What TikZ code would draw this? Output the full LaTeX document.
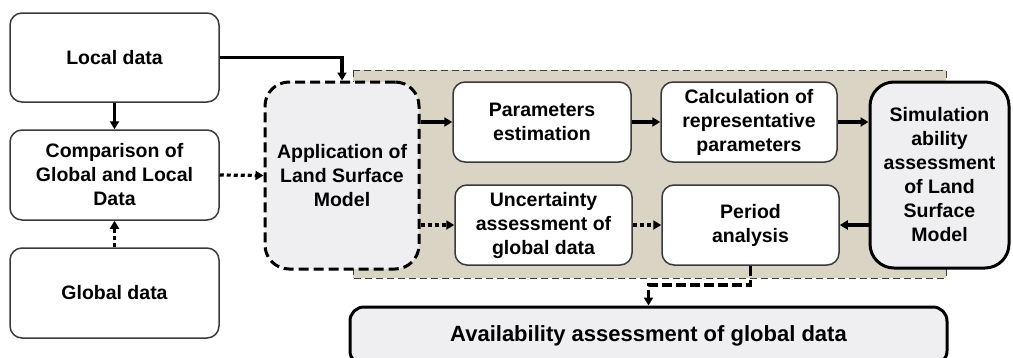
\documentclass[tikz,border=0pt]{standalone}
\usepackage{fontspec}
\setmainfont{Liberation Sans}
\usetikzlibrary{arrows.meta, positioning}
\definecolor{panel}{HTML}{D9D4C3}
\definecolor{shade}{HTML}{EFEFF1}
\definecolor{edge}{HTML}{3A3A3A}

\begin{document}
\begin{tikzpicture}[x=1pt, y=-1pt,
    box/.style={draw=edge, line width=1.5pt, rounded corners=12pt, fill=white,
      align=center, inner sep=2pt, font=\bfseries\fontsize{19.5}{24}\selectfont},
    databox/.style={box, minimum width=209pt, minimum height=89pt},
    stepbox/.style={box, minimum width=177pt, minimum height=80pt},
    bigbox/.style={box, draw=black, line width=3pt, rounded corners=24pt, fill=shade},
    link/.style={line width=3.2pt, -{Triangle[length=8pt,width=9pt]}},
    dotlink/.style={link, dash pattern=on 4pt off 3pt},
    dashlink/.style={link, dash pattern=on 10pt off 4pt}]
  \useasboundingbox (0,0) rectangle (1013,357);

  % Data sources
  \node[databox] (local) at (114.5,57.5) {Local data};
  \node[databox, minimum height=90pt] (compare) at (114.5,175) {Comparison of\\Global and Local\\Data};
  \node[databox, minimum height=90pt] (global) at (114.5,293) {Global data};

  % Model block
  \draw[fill=panel, draw=black!75, line width=1pt, dash pattern=on 7pt off 4pt] (353,70) rectangle (946,278);
  \node[bigbox, dash pattern=on 10pt off 5pt, minimum width=154pt, minimum height=187pt] (lsm) at (342,175.5) {Application of\\Land Surface\\Model};
  \node[stepbox, minimum width=178pt] (param) at (542,122) {Parameters\\estimation};
  \node[stepbox, minimum width=176pt] (calc) at (749,122) {Calculation of\\representative\\parameters};
  \node[stepbox] (uncert) at (543.5,225) {Uncertainty\\assessment of\\global data};
  \node[stepbox] (period) at (750.5,225) {Period\\analysis};
  \node[bigbox, minimum width=139pt, minimum height=186pt] (sim) at (939.5,175) {Simulation\\ability\\assessment\\of Land\\Surface\\Model};

  % Result
  \node[bigbox, rounded corners=14pt, minimum width=597pt, minimum height=58pt,
    font=\bfseries\fontsize{22}{26}\selectfont] (avail) at (648.5,336) {Availability assessment of global data};

  % Arrows
  \draw[link] (local.east) -| (lsm.north);
  \draw[link] (local.south) -- (compare.north);
  \draw[dotlink] (global.north) -- (compare.south);
  \draw[dotlink] (compare.east) -- (lsm.west);
  \draw[link] (lsm.east |- param.west) -- (param.west);
  \draw[link] (param) -- (calc);
  \draw[link] (calc.east) -- (calc.east -| sim.west);
  \draw[link] (sim.west |- period.east) -- (period.east);
  \draw[dotlink] (lsm.east |- uncert.west) -- (uncert.west);
  \draw[dotlink] (uncert) -- (period);
  \coordinate (turn) at (750.5,285);
  \draw[dashlink] (period.south) -- (turn) -| (avail.north);
\end{tikzpicture}
\end{document}
